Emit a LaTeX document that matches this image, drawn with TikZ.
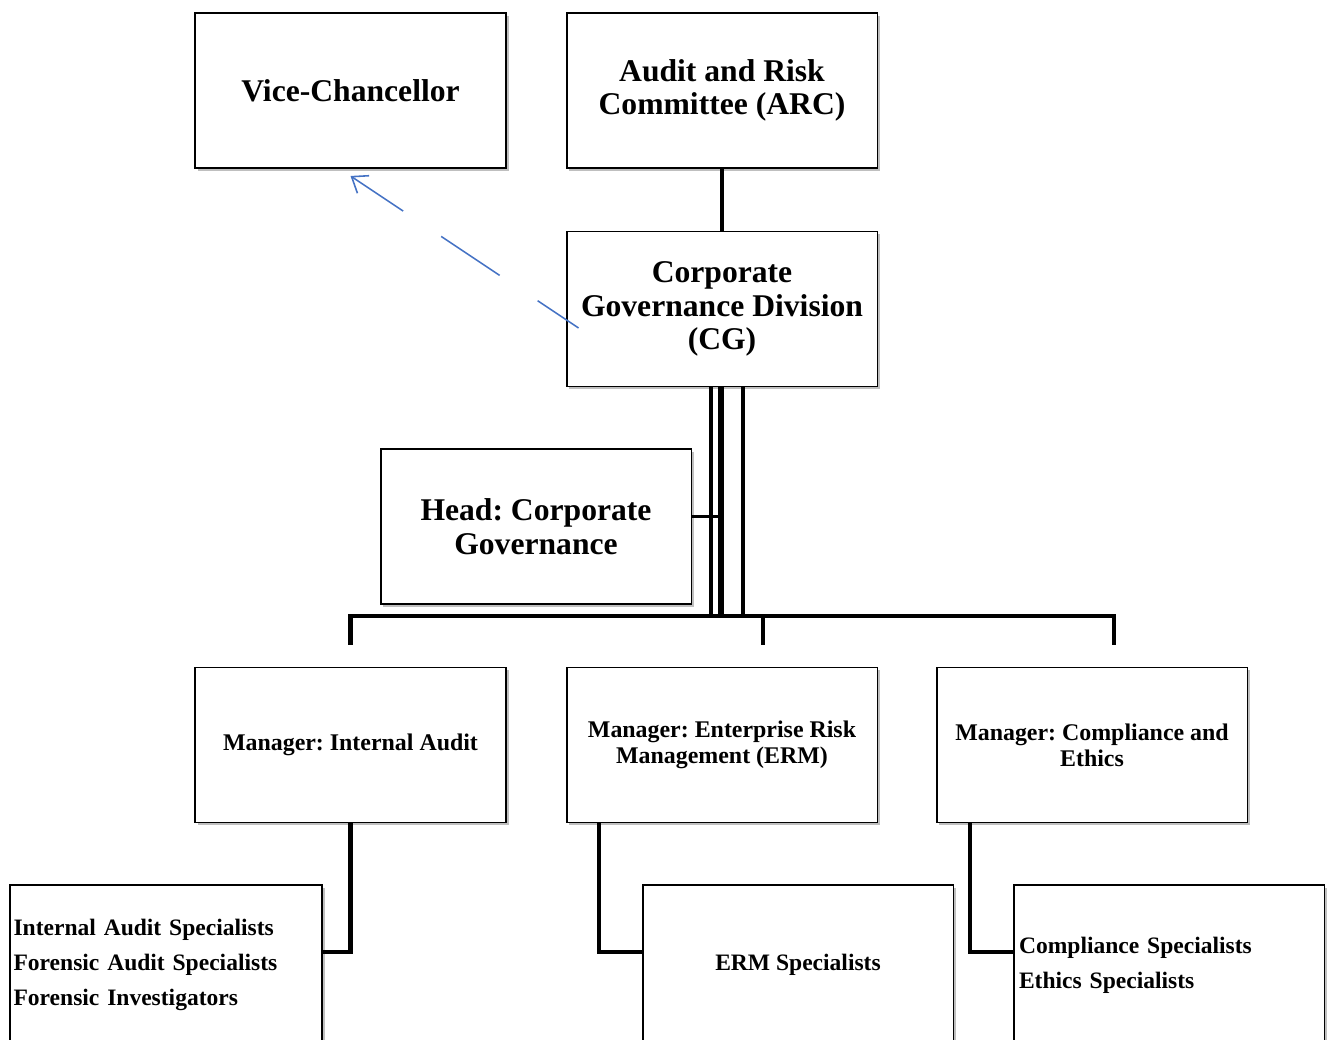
\documentclass[tikz,border=0pt]{standalone}
\usepackage{fontspec}
\setmainfont{Liberation Serif}
\usetikzlibrary{arrows.meta,shadows}
\definecolor{arrowblue}{RGB}{68,114,196}
\frenchspacing
\begin{document}
\begin{tikzpicture}[x=0.02cm,y=-0.02cm,
  box/.style={draw=black, line width=1.1pt, fill=white, minimum width=6.22cm, minimum height=3.1cm,
    inner sep=2pt, align=center, font=\bfseries,
    drop shadow={shadow xshift=1.5pt, shadow yshift=-1.5pt, opacity=0.25, fill=black}},
  big/.style={font=\bfseries\fontsize{18}{19}\selectfont},
  mid/.style={font=\bfseries\fontsize{13.6}{14.6}\selectfont},
  spec/.style={box, minimum height=3.2cm, font=\bfseries\fontsize{13.4}{20}\selectfont},
  conn/.style={draw=black, line width=2.5pt},
  thinconn/.style={draw=black, line width=1.5pt},
  bluearrow/.style={draw=arrowblue, line width=0.9pt, dash pattern=on 40pt off 26pt, dash phase=12pt,
    -{Straight Barb[length=8pt,width=12pt]}}
]
\useasboundingbox (0,0) rectangle (1331,1039);
\clip (0,0) rectangle (1331,1039);

% top row
\node[box,big] (vc) at (350.5,90.5) {Vice-Chancellor};
\node[box,big] (arc) at (722,90.5) {Audit and Risk\\Committee (ARC)};
\node[box,big] (cg) at (722,309) {Corporate\\Governance Division\\(CG)};
\node[box,big] (head) at (536,526.5) {Head: Corporate\\Governance};

% managers
\node[box,mid] (mia) at (350.5,745) {Manager: Internal Audit};
\node[box,mid] (merm) at (722,745) {Manager: Enterprise Risk\\Management (ERM)};
\node[box,mid] (mce) at (1092,745) {Manager: Compliance and\\Ethics};

% specialists
\node[spec, text width=6.1cm, align=left] (sia) at (166,965) {Internal Audit Specialists\\Forensic Audit Specialists\\Forensic Investigators};
\node[spec] (serm) at (798,965) {ERM Specialists};
\node[spec, text width=6.0cm, align=left] (sce) at (1169,965) {Compliance Specialists\\Ethics Specialists};

\coordinate (bar) at (722,616);

% ARC to CG
\draw[conn] (arc.south) -- (cg.north);

% bundle from CG down to bar
\draw[conn] ([xshift=-0.22cm]cg.south) -- ([xshift=-0.22cm]cg.south |- bar);
\draw[draw=black,line width=3.3pt] ([xshift=-0.02cm]cg.south) -- ([xshift=-0.02cm]cg.south |- bar);
\draw[conn] ([xshift=0.42cm]cg.south) -- ([xshift=0.42cm]cg.south |- bar);

% head connector
\draw[thinconn] ([yshift=0.2cm]head.east) -- ([yshift=0.2cm]head.east -| bar);

% horizontal bar and drops
\draw[conn] ([yshift=0.44cm]mia.north) -- (mia.north |- bar) -- ([xshift=0.44cm]mce.north |- bar) -- ([xshift=0.44cm,yshift=0.44cm]mce.north);
\draw[conn] ([xshift=0.82cm]merm.north |- bar) -- ([xshift=0.82cm,yshift=0.44cm]merm.north);

% managers to specialists
\draw[conn] (mia.south) |- ([yshift=0.26cm]sia.east);
\draw[conn] ([xshift=-2.46cm]merm.south) |- ([yshift=0.26cm]serm.west);
\draw[conn] ([xshift=-2.44cm]mce.south) |- ([yshift=0.26cm]sce.west);

% blue dashed arrow
\draw[bluearrow] ([xshift=0.26cm,yshift=-0.38cm]cg.west) -- ([yshift=-0.14cm]vc.south);
\end{tikzpicture}
\end{document}
